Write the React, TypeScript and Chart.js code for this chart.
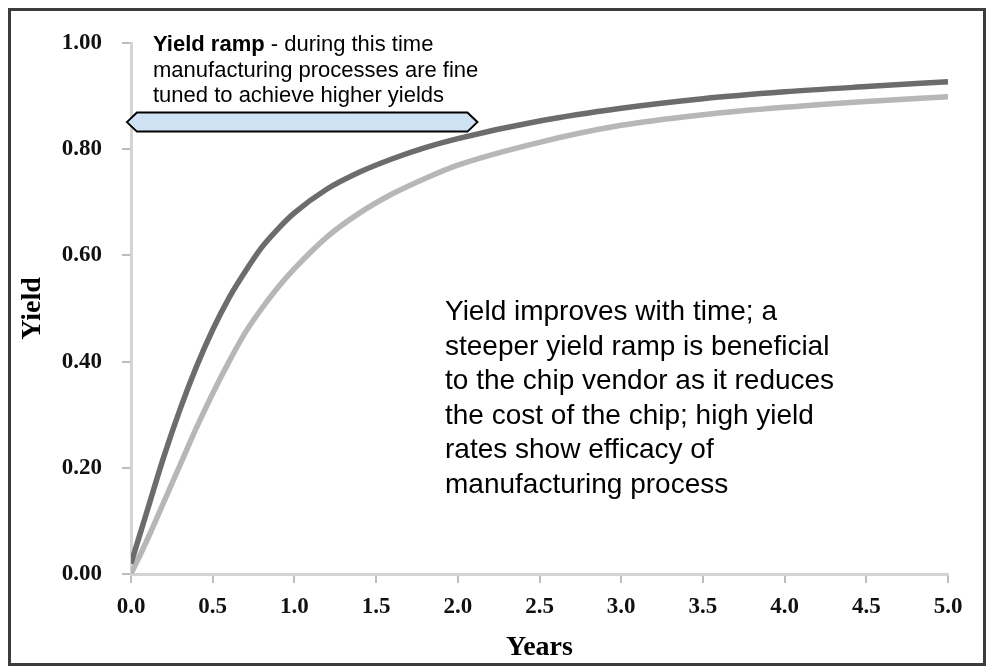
import React, { useEffect, useRef } from "react";
import { Chart, registerables } from "chart.js";

Chart.register(...registerables);

const years = [0, 0.1, 0.2, 0.3, 0.4, 0.5, 0.6, 0.7, 0.8, 0.9, 1.0, 1.2, 1.4, 1.6, 1.8, 2.0, 2.5, 3.0, 3.5, 4.0, 4.5, 5.0];
const steepRamp = [0.02, 0.12, 0.22, 0.31, 0.39, 0.46, 0.52, 0.57, 0.615, 0.65, 0.68, 0.725, 0.757, 0.782, 0.803, 0.82, 0.853, 0.877, 0.895, 0.908, 0.918, 0.927];
const slowRamp = [0.0, 0.065, 0.135, 0.205, 0.275, 0.34, 0.4, 0.455, 0.5, 0.54, 0.575, 0.635, 0.68, 0.716, 0.745, 0.77, 0.813, 0.845, 0.865, 0.879, 0.89, 0.899];

const xTitle = "Years";
const yTitle = "Yield";
const rampStart = -0.025;
const rampEnd = 2.12;
const rampLevel = 0.851;
const rampBold = "Yield ramp";
const rampLines = [" - during this time", "manufacturing processes are fine", "tuned to achieve higher yields"];
const noteLines = [
  "Yield improves with time; a",
  "steeper yield ramp is beneficial",
  "to the chip vendor as it reduces",
  "the cost of the chip; high yield",
  "rates show efficacy of",
  "manufacturing process",
];

const SERIF = '"Liberation Serif", "Times New Roman", serif';
const SANS = '"Liberation Sans", Arial, sans-serif';

const annotationPlugin = {
  id: "rampAnnotations",
  afterDatasetsDraw(chart: any) {
    const { ctx, scales } = chart;
    const x = scales.x;
    const y = scales.y;
    const x0 = x.getPixelForValue(rampStart);
    const x1 = x.getPixelForValue(rampEnd);
    const yc = y.getPixelForValue(rampLevel);
    const h = 9.5;
    const d = 10;
    ctx.save();
    ctx.beginPath();
    ctx.moveTo(x0, yc);
    ctx.lineTo(x0 + d, yc - h);
    ctx.lineTo(x1 - d, yc - h);
    ctx.lineTo(x1, yc);
    ctx.lineTo(x1 - d, yc + h);
    ctx.lineTo(x0 + d, yc + h);
    ctx.closePath();
    ctx.fillStyle = "#cfe2f3";
    ctx.fill();
    ctx.lineWidth = 2;
    ctx.strokeStyle = "#000000";
    ctx.stroke();

    // ramp text
    const tx = x.left + 22;
    ctx.fillStyle = "#000000";
    ctx.textBaseline = "alphabetic";
    ctx.textAlign = "left";
    ctx.font = `bold 22px ${SANS}`;
    ctx.fillText(rampBold, tx, 51);
    const bw = ctx.measureText(rampBold).width;
    ctx.font = `22px ${SANS}`;
    ctx.fillText(rampLines[0], tx + bw, 51);
    ctx.fillText(rampLines[1], tx, 77);
    ctx.fillText(rampLines[2], tx, 102);

    // note text
    ctx.font = `28px ${SANS}`;
    noteLines.forEach((line, i) => {
      ctx.fillText(line, 445, 320 + i * 34.6);
    });
    ctx.restore();
  },
};

export default function App() {
  const canvasRef = useRef<HTMLCanvasElement | null>(null);

  useEffect(() => {
    if (!canvasRef.current) return;
    const chart = new Chart(canvasRef.current, {
      type: "line",
      data: {
        datasets: [
          {
            label: "Steep ramp",
            data: years.map((yr, i) => ({ x: yr, y: steepRamp[i] })),
            borderColor: "#6c6c6c",
            borderWidth: 5.5,
            pointRadius: 0,
            cubicInterpolationMode: "monotone",
            fill: false,
          },
          {
            label: "Slow ramp",
            data: years.map((yr, i) => ({ x: yr, y: slowRamp[i] })),
            borderColor: "#b7b7b7",
            borderWidth: 5.5,
            pointRadius: 0,
            cubicInterpolationMode: "monotone",
            fill: false,
          },
        ],
      },
      options: {
        responsive: false,
        animation: false,
        layout: { padding: { left: 16, right: 39, top: 43, bottom: 3 } },
        plugins: { legend: { display: false }, tooltip: { enabled: false } },
        scales: {
          x: {
            type: "linear",
            min: 0,
            max: 5,
            afterFit: (s: any) => {
              s.height = 91;
            },
            ticks: {
              stepSize: 0.5,
              callback: (v: any) => Number(v).toFixed(1),
              font: { family: SERIF, size: 23, weight: "bold" },
              color: "#111111",
              padding: 10,
              maxRotation: 0,
            },
            grid: { drawOnChartArea: false, tickLength: 9, color: "#bdbdbd", lineWidth: 2 },
            border: { color: "#d4d4d4", width: 3 },
            title: {
              display: true,
              text: xTitle,
              font: { family: SERIF, size: 28, weight: "bold" },
              color: "#000000",
              padding: { top: 0, bottom: 0 },
            },
          },
          y: {
            min: 0,
            max: 1,
            afterFit: (s: any) => {
              s.width = 115;
            },
            ticks: {
              stepSize: 0.2,
              callback: (v: any) => Number(v).toFixed(2),
              font: { family: SERIF, size: 23, weight: "bold" },
              color: "#111111",
              padding: 20,
            },
            grid: { drawOnChartArea: false, tickLength: 9, color: "#bdbdbd", lineWidth: 2 },
            border: { color: "#d4d4d4", width: 3 },
            title: {
              display: true,
              text: yTitle,
              font: { family: SERIF, size: 28, weight: "bold" },
              color: "#000000",
              padding: { top: 0, bottom: 0 },
            },
          },
        },
      },
      plugins: [annotationPlugin],
    });
    return () => chart.destroy();
  }, []);

  return (
    <div style={{ position: "fixed", left: 0, top: 0, width: 987, height: 668, background: "#ffffff", overflow: "hidden" }}>
      <canvas ref={canvasRef} width={987} height={668} style={{ position: "absolute", left: 0, top: 0, width: 987, height: 668 }} />
      <div
        style={{
          position: "absolute",
          left: 8,
          top: 8,
          width: 978,
          height: 658,
          boxSizing: "border-box",
          border: "3px solid #3c3c3c",
          pointerEvents: "none",
        }}
      />
    </div>
  );
}
